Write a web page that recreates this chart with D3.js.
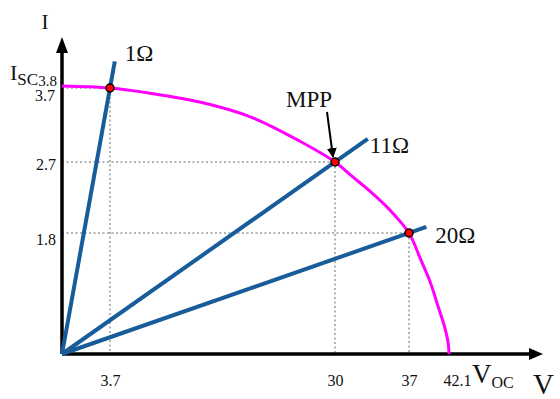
<!DOCTYPE html>
<html>
<head>
	<meta http-equiv="Content-Type" content="text/html;charset=UTF-8">
	<title>I-V curve and load lines</title>
	<style>
		body { margin: 0; background: #fff; }
		svg text { font-family: "Liberation Serif", "Times New Roman", serif; fill: #111; }
	</style>
</head>
<body>

	<div class="chart"></div>

	<script src="https://d3js.org/d3.v7.min.js"></script>
	<script>

		/* I-V curve of the panel */
		var curveV = [0, 3.7, 8.4, 14.2, 20.1, 25.9, 30, 31.6, 33.3, 35.2, 37, 38.4, 39.7, 40.7, 41.5, 42.0, 42.1];
		var curveI = [3.8, 3.7, 3.63, 3.51, 3.31, 2.98, 2.7, 2.52, 2.33, 2.09, 1.8, 1.43, 1.07, 0.71, 0.42, 0.16, 0];

		/* load lines and their operating points */
		var loads = ["1Ω", "11Ω", "20Ω"];
		var loadV = [3.7, 30, 37];
		var loadI = [3.7, 2.7, 1.8];
		var mppIndex = 1;

		/* tick labels */
		var xTicks = [3.7, 30, 37, 42.1];
		var yTicks = [1.8, 2.7, 3.7, 3.8];

		var w = 560;
		var h = 399;
		var serif = "'Liberation Serif', 'Times New Roman', serif";

		/* layout only: how far each load line runs past its point, and where its label sits */
		var lineExt = [1.1, 1.12, 1.05];
		var labelOff = [[10, 0], [2, 14], [9, 16]];

		var SVG = d3.select("div.chart").append("svg")
					.attr("width", w)
					.attr("height", h)
					.attr("font-family", serif);

		/* schematic axes: not to scale, so piecewise scales through the ticks */
		var xSCALE = d3.scaleLinear()
						.domain([0].concat(xTicks))
						.range([62, 110, 335, 409, 449]);

		var ySCALE = d3.scaleLinear()
						.domain([0].concat(yTicks))
						.range([354, 233, 162, 88, 86]);

		var x0 = xSCALE(0), y0 = ySCALE(0);

		/* arrow marker for MPP pointer */
		SVG.append("defs").append("marker")
			.attr("id", "head")
			.attr("viewBox", "0 0 10 10")
			.attr("refX", 9).attr("refY", 5)
			.attr("markerWidth", 5).attr("markerHeight", 5)
			.attr("markerUnits", "strokeWidth")
			.attr("orient", "auto")
			.append("path")
			.attr("d", "M0,0 L10,5 L0,10 z")
			.attr("fill", "#000");

		/* dotted guides */
		var guides = SVG.append("g")
			.attr("stroke", "#b3b3b3")
			.attr("stroke-width", 2)
			.attr("stroke-dasharray", "2,2.5");

		loadV.forEach(function(v, i){
			guides.append("line")
				.attr("x1", x0).attr("y1", ySCALE(loadI[i]))
				.attr("x2", xSCALE(v)).attr("y2", ySCALE(loadI[i]));
			guides.append("line")
				.attr("x1", xSCALE(v)).attr("y1", ySCALE(loadI[i]))
				.attr("x2", xSCALE(v)).attr("y2", y0);
		});

		/* axes with arrow heads */
		SVG.append("line")
			.attr("x1", x0).attr("y1", y0)
			.attr("x2", 532).attr("y2", y0)
			.attr("stroke", "#000").attr("stroke-width", 3.5);
		SVG.append("path")
			.attr("d", "M529," + (y0 - 6) + " L543," + y0 + " L529," + (y0 + 6) + " Z")
			.attr("fill", "#000");

		SVG.append("line")
			.attr("x1", x0).attr("y1", y0)
			.attr("x2", x0).attr("y2", 50)
			.attr("stroke", "#000").attr("stroke-width", 3.5);
		SVG.append("path")
			.attr("d", "M" + (x0 - 6) + ",53 L" + x0 + ",37 L" + (x0 + 6) + ",53 Z")
			.attr("fill", "#000");

		/* I-V curve */
		var ivLine = d3.line()
			.x(function(d){ return xSCALE(d[0]); })
			.y(function(d){ return ySCALE(d[1]); })
			.curve(d3.curveCatmullRom.alpha(0.5));

		SVG.append("path")
			.datum(d3.zip(curveV, curveI))
			.attr("d", ivLine)
			.attr("fill", "none")
			.attr("stroke", "#ff00ff")
			.attr("stroke-width", 3);

		/* load lines */
		var ends = loads.map(function(d, i){
			var px = xSCALE(loadV[i]), py = ySCALE(loadI[i]);
			return [x0 + (px - x0) * lineExt[i], y0 + (py - y0) * lineExt[i]];
		});

		SVG.selectAll("line.load")
			.data(ends)
			.enter()
			.append("line")
			.attr("class", "load")
			.attr("x1", x0).attr("y1", y0)
			.attr("x2", function(d){ return d[0]; })
			.attr("y2", function(d){ return d[1]; })
			.attr("stroke", "#185d99")
			.attr("stroke-width", 4);

		SVG.selectAll("text.load")
			.data(loads)
			.enter()
			.append("text")
			.attr("class", "load")
			.attr("x", function(d, i){ return ends[i][0] + labelOff[i][0]; })
			.attr("y", function(d, i){ return ends[i][1] + labelOff[i][1]; })
			.attr("font-size", "23px")
			.text(function(d){ return d; });

		/* operating points */
		SVG.selectAll("circle")
			.data(loadV)
			.enter()
			.append("circle")
			.attr("cx", function(d){ return xSCALE(d); })
			.attr("cy", function(d, i){ return ySCALE(loadI[i]); })
			.attr("r", 4)
			.attr("fill", "#ff0000")
			.attr("stroke", "#000")
			.attr("stroke-width", 1.5);

		/* MPP pointer */
		var mx = xSCALE(loadV[mppIndex]), my = ySCALE(loadI[mppIndex]);
		SVG.append("line")
			.attr("x1", mx - 8).attr("y1", my - 50)
			.attr("x2", mx - 2).attr("y2", my - 5)
			.attr("stroke", "#000")
			.attr("stroke-width", 2)
			.attr("marker-end", "url(#head)");
		SVG.append("text")
			.attr("x", mx - 26).attr("y", my - 55)
			.attr("text-anchor", "middle")
			.attr("font-size", "23px")
			.text("MPP");

		/* tick labels */
		var xAxis = d3.axisBottom(xSCALE)
					  .tickValues(xTicks)
					  .tickFormat(function(d){ return String(d); })
					  .tickSize(0)
					  .tickPadding(21);
		var gx = SVG.append("g")
			.attr("transform", "translate(0," + y0 + ")")
			.call(xAxis)
			.attr("font-family", serif);
		gx.select(".domain").remove();
		gx.selectAll("text")
			.attr("font-size", "16px")
			.attr("fill", "#111");
		gx.selectAll("text").filter(function(d){ return d === 42.1; })
			.attr("text-anchor", "start")
			.attr("dx", -6);

		var yAxis = d3.axisLeft(ySCALE)
					  .tickValues(yTicks)
					  .tickFormat(function(d){ return String(d); })
					  .tickSize(0)
					  .tickPadding(6);
		var gy = SVG.append("g")
			.attr("transform", "translate(" + x0 + ",0)")
			.call(yAxis)
			.attr("font-family", serif);
		gy.select(".domain").remove();
		gy.selectAll("text")
			.attr("font-size", "16px")
			.attr("fill", "#111")
			.attr("dy", "0.45em");
		gy.selectAll("text").filter(function(d){ return d === 1.8; })
			.attr("dy", "0.7em");
		gy.selectAll("text").filter(function(d){ return d === 3.8; })
			.attr("font-size", "15px")
			.attr("dx", 1)
			.attr("dy", -1);
		gy.selectAll("text").filter(function(d){ return d === 3.7; })
			.attr("dx", -1)
			.attr("dy", 12);

		/* axis names */
		SVG.append("text")
			.attr("x", 38).attr("y", 80)
			.attr("text-anchor", "end")
			.attr("font-size", "22px")
			.text("I")
			.append("tspan")
			.attr("font-size", "17px")
			.attr("dy", 5)
			.text("SC");

		SVG.append("text")
			.attr("x", 472).attr("y", 383)
			.attr("font-size", "27px")
			.text("V")
			.append("tspan")
			.attr("font-size", "16px")
			.attr("dy", 5)
			.text("OC");

		SVG.append("text")
			.attr("x", 45).attr("y", 29)
			.attr("text-anchor", "middle")
			.attr("font-size", "21px")
			.text("I");

		SVG.append("text")
			.attr("x", 533).attr("y", 394)
			.attr("font-size", "29px")
			.text("V");

	</script>

</body>
</html>
